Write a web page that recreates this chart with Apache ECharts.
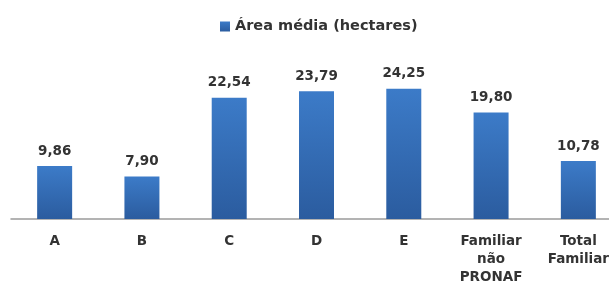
<!DOCTYPE html>
<html>
<head>
<meta charset="utf-8">
<script src="https://cdn.jsdelivr.net/npm/echarts@6/dist/echarts.min.js"></script>
<style>html,body{margin:0;padding:0;background:#fff;overflow:hidden}#c{width:622px;height:289px}</style>
</head>
<body>
<div id="c"></div>
<script>
var categories = ['A', 'B', 'C', 'D', 'E', 'Familiar\nnão\nPRONAF', 'Total\nFamiliar'];
var seriesName = 'Área média (hectares)';
var values = [9.86, 7.90, 22.54, 23.79, 24.25, 19.80, 10.78];

var chart = echarts.init(document.getElementById('c'), null, {renderer: 'canvas'});
var font = 'DejaVu Sans';
chart.setOption({
  animation: false,
  backgroundColor: '#fff',
  legend: {
    left: 215, top: 14,
    itemWidth: 10, itemHeight: 10,
    icon: 'rect',
    textStyle: {fontFamily: font, fontWeight: 'bold', fontSize: 14.5, color: '#333'},
    data: [seriesName]
  },
  grid: {left: 11, right: 0, top: 57.75, height: 161.25, containLabel: false},
  xAxis: {
    type: 'category',
    data: categories,
    axisLine: {lineStyle: {color: '#9a9a9a', width: 1.5}},
    axisTick: {show: false},
    axisLabel: {
      interval: 0, margin: 13,
      fontFamily: font, fontWeight: 'bold', fontSize: 13.5, color: '#333', lineHeight: 18
    }
  },
  yAxis: {type: 'value', min: 0, max: 30, show: false, splitLine: {show: false}},
  series: [{
    name: seriesName,
    type: 'bar',
    data: values,
    barWidth: 35,
    itemStyle: {
      color: new echarts.graphic.LinearGradient(0, 0, 0, 1, [
        {offset: 0, color: '#3c7bc8'},
        {offset: 1, color: '#2b5c9f'}
      ])
    },
    label: {
      show: true, position: 'top', distance: 8,
      fontFamily: font, fontWeight: 'bold', fontSize: 13.5, color: '#333',
      formatter: function (p) { return p.value.toFixed(2).replace('.', ','); }
    }
  }]
});
</script>
</body>
</html>
